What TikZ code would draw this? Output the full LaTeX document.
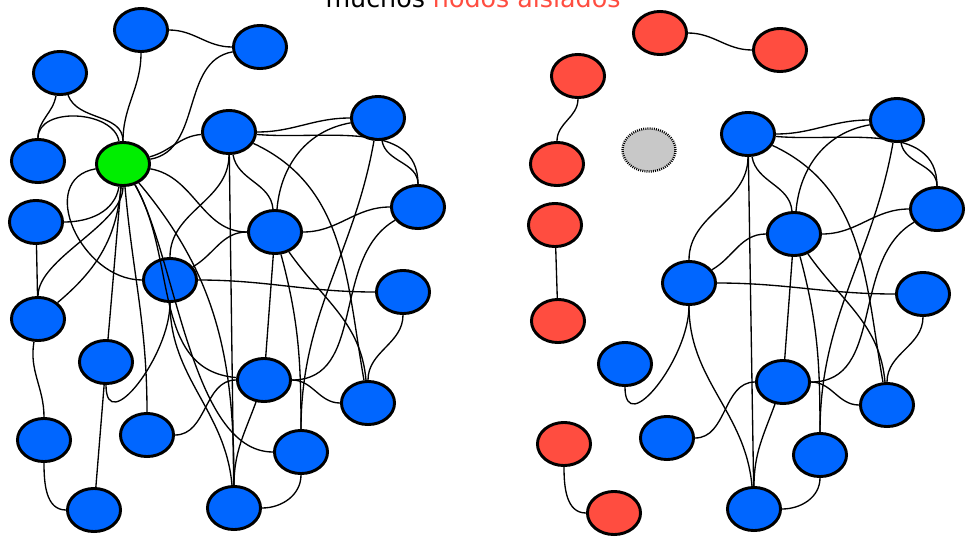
\documentclass[tikz,border=0pt]{standalone}
\usepackage{fontspec}
\setmainfont{DejaVu Sans}
\usetikzlibrary{shapes.geometric}
\definecolor{peerblue}{RGB}{0,102,255}
\definecolor{lonelyred}{RGB}{255,77,64}
\definecolor{hubgreen}{RGB}{0,238,0}
\definecolor{gonegray}{RGB}{200,200,200}
\begin{document}
\begin{tikzpicture}[x=0.75pt,y=0.75pt]
  \tikzstyle{peer}=[ellipse, draw, line width=2.2pt, minimum width=39.8pt, minimum height=32.3pt, inner sep=0pt, fill=peerblue]
  \tikzstyle{lonely}=[peer, fill=lonelyred]
  \tikzstyle{hub}=[peer, fill=hubgreen]
  \tikzstyle{dropped}=[peer, fill=gonegray, line width=1.8pt, dash pattern=on 0.7pt off 0.9pt]
  \tikzstyle{link}=[line width=1pt]

  \useasboundingbox (0,0) rectangle (972,-540);

  \node[anchor=base, font=\fontsize{19}{22}\selectfont] (title) at (473,-7) {muchos \textcolor{lonelyred}{nodos aislados}};

  \node[peer] (a1) at (141,-30) {};
  \node[peer] (a2) at (260,-47) {};
  \node[peer] (a3) at (60,-73) {};
  \node[peer] (a4) at (38,-161) {};
  \node[hub] (g) at (123,-164) {};
  \node[peer] (a5) at (229,-132) {};
  \node[peer] (a6) at (378,-118) {};
  \node[peer] (a7) at (418,-207) {};
  \node[peer] (a8) at (36,-222) {};
  \node[peer] (a9) at (275,-232) {};
  \node[peer] (a10) at (170,-280) {};
  \node[peer] (a11) at (403,-292) {};
  \node[peer] (a12) at (38,-319) {};
  \node[peer] (a13) at (106,-362) {};
  \node[peer] (a14) at (264,-380) {};
  \node[peer] (a15) at (368,-403) {};
  \node[peer] (a16) at (44,-440) {};
  \node[peer] (a17) at (147,-435) {};
  \node[peer] (a18) at (301,-452) {};
  \node[peer] (a19) at (94,-510) {};
  \node[peer] (a20) at (234,-508) {};

  \node[lonely] (b1) at (660,-33) {};
  \node[lonely] (b2) at (780,-50) {};
  \node[lonely] (b3) at (578,-76) {};
  \node[lonely] (b4) at (557,-164) {};
  \node[dropped] (gx) at (649,-150) {};
  \node[peer] (b5) at (748,-134) {};
  \node[peer] (b6) at (897,-120) {};
  \node[peer] (b7) at (937,-209) {};
  \node[lonely] (b8) at (555,-225) {};
  \node[peer] (b9) at (794,-234) {};
  \node[peer] (b10) at (689,-283) {};
  \node[peer] (b11) at (923,-294) {};
  \node[lonely] (b12) at (558,-321) {};
  \node[peer] (b13) at (625,-364) {};
  \node[peer] (b14) at (783,-382) {};
  \node[peer] (b15) at (887,-405) {};
  \node[lonely] (b16) at (564,-444) {};
  \node[peer] (b17) at (667,-438) {};
  \node[peer] (b18) at (820,-455) {};
  \node[lonely] (b19) at (614,-513) {};
  \node[peer] (b20) at (754,-509) {};

  \draw[link] (a1) to[out=0,in=180] (a2);
  \draw[link] (a1) to[out=-90,in=90] (g);
  \draw[link] (a2) to[out=190,in=10] (g);
  \draw[link] (a3) to[out=-100,in=90] (a4);
  \draw[link] (a3) to[out=-70,in=90] (g);
  \draw[link] (a4) to[out=90,in=100] (g);
  \draw[link] (a5) to[out=185,in=15] (g);
  \draw[link] (a8) to[out=0,in=-100] (g);
  \draw[link] (a8) -- (a12);
  \draw[link] (a12) to[out=90,in=-90,looseness=0.7] (g);
  \draw[link] (a12) to[out=40,in=-95] (g);
  \draw[link] (g) to[out=190,in=180,looseness=1.3] (a10);
  \draw[link] (g) to[out=-95,in=85] (a13);
  \draw[link] (g) to[out=-85,in=90] (a17);
  \draw[link] (g) to[out=-10,in=180] (a9);
  \draw[link] (g) to[out=-60,in=175] (a14);
  \draw[link] (g) to[out=-60,in=180,looseness=0.7] (a18);
  \draw[link] (g) to[out=-50,in=90] (a20);
  \draw[link] (a12) to[out=-100,in=90] (a16);
  \draw[link] (a13) -- (a19);
  \draw[link] (a16) to[out=-90,in=180] (a19);

  \draw[link] (a5) to[out=0,in=180] (a6);
  \draw[link] (a5) to[out=-5,in=90] (a7);
  \draw[link] (a6) to[out=-80,in=90] (a7);
  \draw[link] (a5) -- (a20);
  \draw[link] (a5) to[out=-90,in=90] (a10);
  \draw[link] (a5) to[out=-80,in=95] (a9);
  \draw[link] (a6) to[out=190,in=85] (a9);
  \draw[link] (a9) to[out=0,in=180] (a7);
  \draw[link] (a10) to[out=0,in=180] (a11);
  \draw[link] (a10) to[out=30,in=180] (a9);
  \draw[link] (a10) to[out=-90,in=-90,looseness=1.3] (a13);
  \draw[link] (a10) to[out=-90,in=95] (a20);
  \draw[link] (a17) to[out=0,in=180] (a14);
  \draw[link] (a9) -- (a14);
  \draw[link] (a14) to[out=0,in=180] (a15);
  \draw[link] (a7) to[out=210,in=0] (a14);
  \draw[link] (a11) to[out=-90,in=90] (a15);
  \draw[link] (a9) to[out=-75,in=90] (a18);
  \draw[link] (a20) to[out=0,in=-90] (a18);
  \draw[link] (a14) to[out=-110,in=90] (a20);
  \draw[link] (a9) to[out=-55,in=95] (a15);
  \draw[link] (a5) to[out=-25,in=100] (a15);
  \draw[link] (a6) to[out=-100,in=90] (a18);

  \draw[link] (b1) to[out=0,in=180] (b2);
  \draw[link] (b3) to[out=-90,in=90] (b4);
  \draw[link] (b8) -- (b12);
  \draw[link] (b16) to[out=-90,in=180] (b19);

  \draw[link] (b5) to[out=0,in=180] (b6);
  \draw[link] (b5) to[out=-5,in=90] (b7);
  \draw[link] (b6) to[out=-80,in=90] (b7);
  \draw[link] (b5) -- (b20);
  \draw[link] (b5) to[out=-90,in=90] (b10);
  \draw[link] (b5) to[out=-80,in=95] (b9);
  \draw[link] (b6) to[out=190,in=85] (b9);
  \draw[link] (b9) to[out=0,in=180] (b7);
  \draw[link] (b10) to[out=0,in=180] (b11);
  \draw[link] (b10) to[out=30,in=180] (b9);
  \draw[link] (b10) to[out=-90,in=-90,looseness=1.3] (b13);
  \draw[link] (b10) to[out=-90,in=95] (b20);
  \draw[link] (b17) to[out=0,in=180] (b14);
  \draw[link] (b9) -- (b14);
  \draw[link] (b14) to[out=0,in=180] (b15);
  \draw[link] (b7) to[out=210,in=0] (b14);
  \draw[link] (b11) to[out=-90,in=90] (b15);
  \draw[link] (b9) to[out=-75,in=90] (b18);
  \draw[link] (b20) to[out=0,in=-90] (b18);
  \draw[link] (b14) to[out=-110,in=90] (b20);
  \draw[link] (b9) to[out=-55,in=95] (b15);
  \draw[link] (b5) to[out=-25,in=100] (b15);
  \draw[link] (b6) to[out=-100,in=90] (b18);

\end{tikzpicture}
\end{document}
